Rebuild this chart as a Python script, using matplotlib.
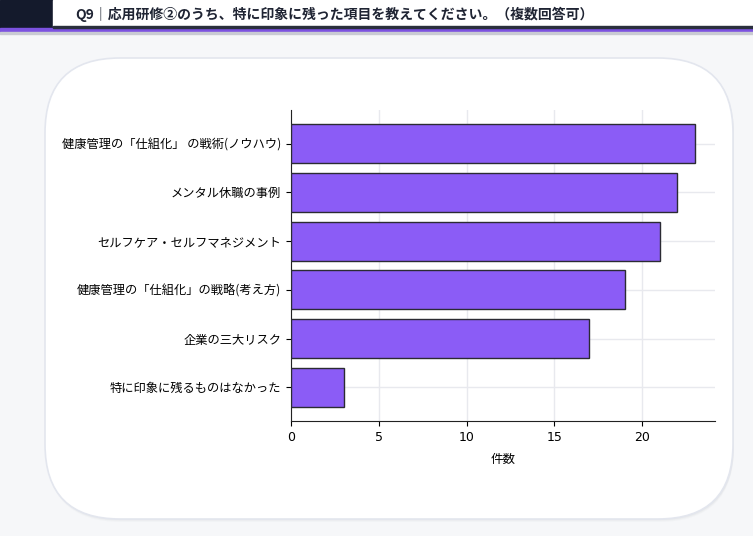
import matplotlib
matplotlib.use("Agg")
import matplotlib.pyplot as plt
from matplotlib.patches import FancyBboxPatch, Rectangle

plt.rcParams['font.family'] = ['Noto Sans CJK JP', 'DejaVu Sans']

# data (top to bottom as shown)
items = ['健康管理の「仕組化」 の戦術(ノウハウ)', 'メンタル休職の事例', 'セルフケア・セルフマネジメント',
         '健康管理の「仕組化」の戦略(考え方)', '企業の三大リスク', '特に印象に残るものはなかった']
counts = [23, 22, 21, 19, 17, 3]
title = 'Q9｜応用研修②のうち、特に印象に残った項目を教えてください。（複数回答可）'

W, H = 753, 536
fig = plt.figure(figsize=(W / 100, H / 100), dpi=100)
fig.patch.set_facecolor('#f6f7f9')

# background layer in pixel coords
bg = fig.add_axes([0, 0, 1, 1])
bg.set_xlim(0, W)
bg.set_ylim(H, 0)
bg.axis('off')

# header
bg.add_patch(Rectangle((0, 0), W, 29, color='#141a2c', zorder=1))
bg.add_patch(Rectangle((0, 28), W, 4, color='#7c52e0', zorder=1))
bg.add_patch(Rectangle((0, 32), W, 2, color='#c9cbd3', zorder=1))
bg.add_patch(Rectangle((53, 0), W - 53, 26, color='white', zorder=2))
bg.add_patch(Rectangle((53, 26), W - 53, 2, color='#2a2f3d', zorder=2))
bg.text(75, 14, title, fontsize=10, fontweight='bold', color='#1f2433',
        va='center', ha='left', zorder=3)

# card with soft shadow
for i, a in enumerate([0.06, 0.05, 0.04]):
    bg.add_patch(FancyBboxPatch((45 + 1, 58 + 1 + i), 688, 461,
                                boxstyle='round,pad=0,rounding_size=75',
                                fc='#8d93a0', ec='none', alpha=a, zorder=3))
bg.add_patch(FancyBboxPatch((45, 58), 688, 461,
                            boxstyle='round,pad=0,rounding_size=75',
                            fc='white', ec='#e3e6ee', lw=1.2, zorder=4))

# chart
ax = fig.add_axes([291 / W, 1 - 421 / H, (715 - 291) / W, (421 - 110) / H])
ax.set_facecolor('none')
ypos = list(range(len(items)))[::-1]
ax.barh(ypos, counts, height=0.8, color='#8b5cf6', edgecolor='#2b2b33', linewidth=1, zorder=3)
ax.set_yticks(ypos)
ax.set_yticklabels(items, fontsize=8.8)
ax.set_xlim(0, max(counts) * 1.05)
ax.set_xticks([0, 5, 10, 15, 20])
ax.set_xticklabels(['0', '5', '10', '15', '20'], fontsize=9, family='DejaVu Sans')
ax.set_xlabel('件数', fontsize=9, labelpad=7)
ax.grid(True, color='#e8e9ee', linewidth=1, zorder=0)
ax.set_axisbelow(True)
for s in ['top', 'right']:
    ax.spines[s].set_visible(False)
for s in ['left', 'bottom']:
    ax.spines[s].set_color('#222222')

fig.savefig('out.png', dpi=100)
